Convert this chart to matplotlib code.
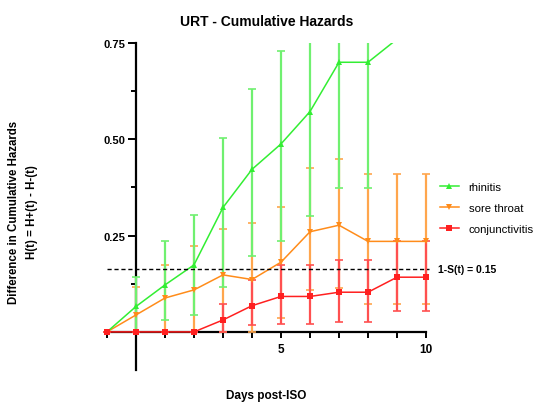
import numpy as np
import matplotlib
matplotlib.use("Agg")
import matplotlib.pyplot as plt
from matplotlib.ticker import FixedLocator, FormatStrFormatter

plt.rcParams['font.family'] = ['Liberation Sans', 'DejaVu Sans']

# ---- data ----
days = [-1, 0, 1, 2, 3, 4, 5, 6, 7, 8, 9, 10]

rhin_days = [-1, 0, 1, 2, 3, 4, 5, 6, 7, 8, 9]
rhin = [0, 0.066, 0.122, 0.174, 0.323, 0.422, 0.488, 0.572, 0.700, 0.700, 0.760]
rhin_up = [0, 0.143, 0.237, 0.303, 0.503, 0.631, 0.730, 0.85, 0.95, 0.95, np.nan]
rhin_lo = [0, 0, 0.030, 0.044, 0.117, 0.198, 0.237, 0.300, 0.374, 0.374, np.nan]

sore = [0, 0.044, 0.088, 0.109, 0.148, 0.136, 0.181, 0.260, 0.277, 0.235, 0.235, 0.235]
sore_up = [0, 0.116, 0.173, 0.223, 0.268, 0.283, 0.325, 0.426, 0.448, 0.410, 0.410, 0.410]
sore_lo = [0, 0, 0, 0, 0, 0, 0.036, 0.108, 0.114, 0.073, 0.073, 0.073]

conj = [0, 0, 0, 0, 0.031, 0.068, 0.092, 0.092, 0.103, 0.103, 0.142, 0.142]
conj_up = [0, 0, 0, 0, 0.072, 0.136, 0.174, 0.174, 0.186, 0.186, 0.237, 0.237]
conj_lo = [0, 0, 0, 0, 0, 0.018, 0.021, 0.021, 0.025, 0.025, 0.053, 0.053]

threshold = 0.1625  # -ln(0.85)
threshold_label = "1-S(t) = 0.15"
series_names = ["rhinitis", "sore throat", "conjunctivitis"]

# ---- figure ----
fig = plt.figure(figsize=(5.36, 4.06), dpi=100)
ax = fig.add_axes([0.1888, 0.0852, 0.6168, 0.8064])

def draw(x, y, up, lo, color, ecolor, marker, ms, label):
    y = np.array(y, float)
    up = np.array(up, float)
    lo = np.array(lo, float)
    yerr = np.vstack([y - lo, up - y])
    ax.errorbar(x, y, yerr=yerr, fmt='none', ecolor=ecolor, elinewidth=1.6,
                capsize=3, capthick=1.2, zorder=2)
    ax.plot(x, y, color=color, lw=1.1, marker=marker, ms=ms,
            markeredgewidth=0, zorder=3, label=label)

draw(days, sore, sore_up, sore_lo, '#ff8c1a', '#ffa64d', 'v', 4.5, series_names[1])
draw(rhin_days, rhin, rhin_up, rhin_lo, '#33ee33', '#70f070', '^', 4.5, series_names[0])
draw(days, conj, conj_up, conj_lo, '#ff2020', '#ff5050', 's', 4.5, series_names[2])

ax.hlines(threshold, days[0], 10.1, colors='black', linestyles=(0, (3, 2)),
          lw=1.0, clip_on=False, zorder=4)
ax.text(10.4, threshold, threshold_label, fontsize=7.5, fontweight='bold',
        va='center', ha='left')

ax.set_xlim(-1.2, 10.2)
ax.set_ylim(-0.1, 0.75)

for s in ['top', 'right']:
    ax.spines[s].set_visible(False)
ax.spines['left'].set_position(('data', 0))
ax.spines['bottom'].set_position(('data', 0))
ax.spines['bottom'].set_bounds(-1, 10)
ax.spines['left'].set_bounds(-0.1, 0.75)
for s in ['left', 'bottom']:
    ax.spines[s].set_linewidth(1.6)
    ax.spines[s].set_zorder(1)

ax.xaxis.set_major_locator(FixedLocator([5, 10]))
ax.xaxis.set_minor_locator(FixedLocator(list(range(-1, 11))))
ax.yaxis.set_major_locator(FixedLocator([0.25, 0.5, 0.75]))
ax.yaxis.set_minor_locator(FixedLocator([0.125, 0.375, 0.625]))
ax.yaxis.set_major_formatter(FormatStrFormatter('%.2f'))
ax.tick_params(axis='x', which='both', direction='out', length=4, width=1.4,
               labelsize=8.5, pad=4)
ax.tick_params(axis='y', which='major', direction='out', length=5.5, width=1.4,
               labelsize=8, pad=2)
ax.tick_params(axis='y', which='minor', direction='out', length=3.5, width=1.4)
for lab in ax.get_xticklabels() + ax.get_yticklabels():
    lab.set_fontweight('bold')

ax.set_title("URT - Cumulative Hazards", fontsize=10, fontweight='bold', pad=13)
fig.text(266 / 536, 1 - 396 / 406, "Days post-ISO", fontsize=8.5, fontweight='bold',
         ha='center', va='center')
fig.text(23 / 536, 1 - 212 / 406, "Difference in Cumulative Hazards\nH(t) = H+(t) - H-(t)",
         fontsize=8.3, fontweight='bold', rotation=90, ha='center', va='center',
         multialignment='center', linespacing=1.6)

handles, labels = ax.get_legend_handles_labels()
order = [labels.index(n) for n in series_names]
leg = fig.legend([handles[i] for i in order], [labels[i] for i in order],
                 loc='upper left', bbox_to_anchor=(435 / 536, 1 - 178 / 406),
                 frameon=False, fontsize=8.2, handlelength=1.7, handletextpad=0.85,
                 labelspacing=1.0, borderaxespad=0)

fig.savefig("out.png", dpi=100)
